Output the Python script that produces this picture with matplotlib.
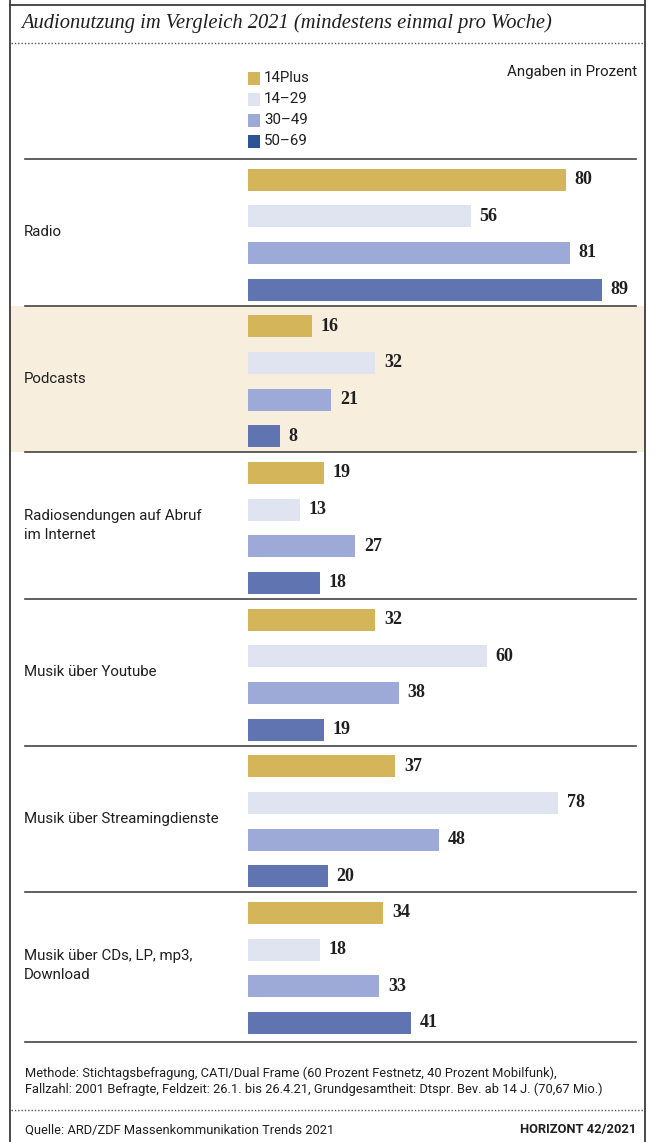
import matplotlib
matplotlib.use("Agg")
import matplotlib.pyplot as plt
from matplotlib.patches import Rectangle

# ---------------- data ----------------
categories = ["Radio", "Podcasts", "Radiosendungen auf Abruf\nim Internet",
              "Musik über Youtube", "Musik über Streamingdienste",
              "Musik über CDs, LP, mp3,\nDownload"]
series_names = ["14Plus", "14–29", "30–49", "50–69"]
v_14plus = [80, 16, 19, 32, 37, 34]
v_14_29 = [56, 32, 13, 60, 78, 18]
v_30_49 = [81, 21, 27, 38, 48, 33]
v_50_69 = [89, 8, 18, 19, 20, 41]
series_values = [v_14plus, v_14_29, v_30_49, v_50_69]

title = "Audionutzung im Vergleich 2021 (mindestens einmal pro Woche)"
unit_note = "Angaben in Prozent"
method_note = ("Methode: Stichtagsbefragung, CATI/Dual Frame (60 Prozent Festnetz, 40 Prozent Mobilfunk),\n"
               "Fallzahl: 2001 Befragte, Feldzeit: 26.1. bis 26.4.21, Grundgesamtheit: Dtspr. Bev. ab 14 J. (70,67 Mio.)")
source_note = "Quelle: ARD/ZDF Massenkommunikation Trends 2021"
brand_note = "HORIZONT 42/2021"

# ---------------- style ----------------
bar_colors = ["#D5B55A", "#DFE4F0", "#9DAAD8", "#5F74B0"]
legend_colors = ["#D5B55A", "#DFE4F0", "#9DAAD8", "#2B5597"]
highlight_bg = "#F7EEDD"
line_col = "#3a3a3a"
text_col = "#1f1f1f"
SANS = ["Roboto", "DejaVu Sans"]
SERIF = ["Liberation Serif", "DejaVu Serif"]

W, H = 666, 1142
fig = plt.figure(figsize=(W / 100, H / 100), dpi=100)

# overlay axes in pixel coordinates (for decorations)
ov = fig.add_axes([0, 0, 1, 1])
ov.set_xlim(0, W)
ov.set_ylim(H, 0)
ov.axis("off")

# frame
ov.plot([9.5, 9.5], [0, H], color=line_col, lw=1.3)
ov.plot([644.5, 644.5], [0, H], color=line_col, lw=1.3)
ov.plot([9.5, 644.5], [4.5, 4.5], color=line_col, lw=1.3)

# title and dotted rule
ov.text(21, 23, title, family=SERIF, style="italic", fontsize=14.8, color=text_col,
        ha="left", va="center")
ov.plot([11, 644], [43, 43], color="#555555", lw=1.0, linestyle=(0, (1, 1.4)))

# legend
leg_y = [78, 99, 120, 141]
for name, col, y in zip(series_names, legend_colors, leg_y):
    ov.add_patch(Rectangle((248, y - 6.5), 12, 13, facecolor=col, edgecolor="none"))
    ov.text(264, y, name, family=SANS, fontsize=10.8, color=text_col, ha="left", va="center")
ov.text(637, 72, unit_note, family=SANS, fontsize=10.8, color=text_col, ha="right", va="center")

# chart area geometry (pixels)
top_px, bot_px = 159, 1039
n_groups = len(categories)
group_h = (bot_px - top_px) / n_groups

# highlight for Podcasts
ov.add_patch(Rectangle((10, top_px + group_h), 634, group_h, facecolor=highlight_bg,
                       edgecolor="none", zorder=0))
# separators
for g in range(n_groups + 1):
    y = top_px + g * group_h + (3 if g == n_groups else 0)
    ov.plot([25, 636], [y, y], color="#444444", lw=1.2, zorder=2)

# category labels
for g, cat in enumerate(categories):
    ov.text(24, top_px + (g + 0.5) * group_h, cat, family=SANS, fontsize=10.8,
            color=text_col, ha="left", va="center", linespacing=1.4)

# bar axes
px_per_unit = 3.975
x0_px = 248
ax_w_px = 636 - x0_px
ax = fig.add_axes([x0_px / W, (H - bot_px) / H, ax_w_px / W, (bot_px - top_px) / H])
ax.set_xlim(0, ax_w_px / px_per_unit)
ax.set_ylim(n_groups * 4, 0)
ax.axis("off")
ax.patch.set_alpha(0)

for k, (vals, col) in enumerate(zip(series_values, bar_colors)):
    ys = [g * 4 + k + 0.56 for g in range(n_groups)]
    ax.barh(ys, vals, height=0.6, color=col, edgecolor="none", zorder=3)
    for y, v in zip(ys, vals):
        ax.text(v + 2.2, y, str(v), family=SERIF, fontweight="bold", fontsize=13,
                color=text_col, ha="left", va="center")

# footer
ov.text(25, 1081, method_note, family=SANS, fontsize=9.3, color=text_col,
        ha="left", va="center", linespacing=1.25)
ov.plot([11, 644], [1110, 1110], color="#555555", lw=1.0, linestyle=(0, (1, 1.4)))
ov.text(25, 1130, source_note, family=SANS, fontsize=9.3, color=text_col, ha="left", va="center")
ov.text(636, 1130, brand_note, family=SANS, fontsize=9.3, fontweight="bold", color=text_col,
        ha="right", va="center")

fig.savefig("out.png", dpi=100)
